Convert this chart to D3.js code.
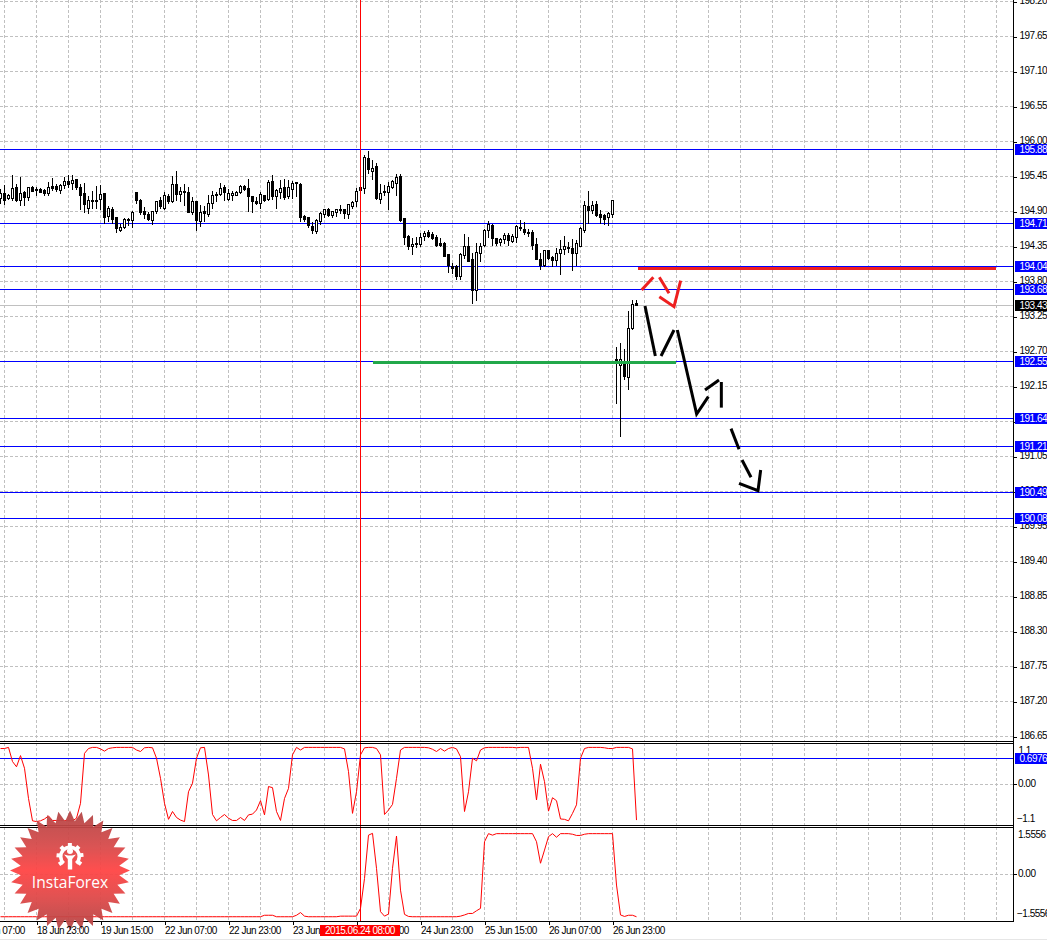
<!DOCTYPE html>
<html><head><meta charset="utf-8">
<script src="https://cdn.jsdelivr.net/npm/d3@7"></script>
<style>
html,body{margin:0;padding:0;background:#fff}
svg{display:block}
text{font-family:"Liberation Sans",sans-serif;font-size:10px;letter-spacing:-.5px;fill:#000}
</style></head><body><div id="chart"></div>
<script>
const opens=[195.10,195.19,195.11,195.10,195.28,195.07,195.20,195.12,195.28,195.24,
195.25,195.23,195.17,195.29,195.29,195.23,195.30,195.37,195.34,195.40,
195.28,195.19,194.95,195.08,195.08,195.08,195.18,194.81,194.93,194.80,
194.60,194.66,194.77,194.76,195.20,195.07,194.90,194.86,194.76,194.90,
195.07,194.95,195.14,195.07,195.32,195.17,195.21,195.20,194.88,195.05,
194.74,194.90,194.84,195.03,195.16,195.17,195.28,195.08,195.16,195.16,
195.20,195.29,195.26,195.14,195.06,195.03,195.15,195.09,195.37,195.14,
195.20,195.27,195.13,195.25,195.35,195.33,194.82,194.80,194.67,194.58,
194.74,194.85,194.93,194.84,194.88,194.93,194.93,194.85,194.98,195.05,
195.27,195.26,195.74,195.54,195.60,195.09,195.22,195.20,195.28,195.34,
195.45,194.79,194.51,194.35,194.40,194.38,194.50,194.57,194.54,194.49,
194.40,194.40,194.22,194.04,194.04,193.89,194.21,194.35,194.14,193.66,
194.24,194.36,194.60,194.68,194.47,194.41,194.46,194.53,194.42,194.49,
194.65,194.62,194.57,194.57,194.38,194.15,194.05,194.28,194.18,194.13,
194.24,194.30,194.34,194.32,194.24,194.36,194.60,194.98,194.92,195.01,
194.86,194.84,194.80,194.85,192.57,192.47,192.51,192.29,193.06,193.46];
const highs=[195.26,195.31,195.18,195.48,195.33,195.45,195.23,195.29,195.30,195.28,
195.27,195.25,195.36,195.42,195.33,195.33,195.45,195.47,195.48,195.41,
195.33,195.34,195.15,195.23,195.30,195.31,195.19,194.99,194.97,194.82,
194.71,194.80,194.80,194.91,195.21,195.09,194.97,194.89,194.91,195.07,
195.13,195.20,195.18,195.46,195.54,195.28,195.33,195.28,195.12,195.07,
195.00,194.98,195.16,195.23,195.20,195.35,195.31,195.26,195.23,195.23,
195.32,195.31,195.41,195.15,195.13,195.20,195.15,195.39,195.48,195.25,
195.40,195.41,195.39,195.38,195.36,195.35,194.84,194.81,194.74,194.79,
194.89,194.94,194.95,194.91,194.94,195.01,194.94,195.02,195.06,195.27,
195.31,195.78,195.85,195.71,195.67,195.33,195.31,195.36,195.40,195.49,
195.49,194.80,194.53,194.48,194.50,194.56,194.60,194.61,194.58,194.53,
194.48,194.42,194.22,194.09,194.06,194.25,194.54,194.50,194.24,194.41,
194.41,194.63,194.75,194.71,194.49,194.49,194.56,194.56,194.55,194.68,
194.77,194.73,194.62,194.61,194.48,194.24,194.28,194.28,194.20,194.32,
194.45,194.51,194.42,194.46,194.45,194.66,195.07,195.23,195.06,195.06,
194.93,194.86,194.89,195.08,192.77,192.84,192.74,193.34,193.51,193.51];
const lows=[195.02,195.00,195.08,195.07,195.05,194.99,194.99,195.07,195.20,195.15,
195.19,195.15,195.14,195.23,195.20,195.18,195.25,195.27,195.24,195.24,
194.92,194.88,194.86,194.94,194.94,194.92,194.71,194.74,194.71,194.56,
194.58,194.63,194.67,194.64,195.02,194.84,194.78,194.75,194.69,194.86,
194.94,194.92,195.02,195.04,195.07,195.05,194.98,194.87,194.84,194.60,
194.65,194.74,194.81,194.94,195.05,195.15,195.06,195.06,195.07,195.14,
195.18,195.23,194.89,194.88,195.00,194.94,195.05,195.07,195.08,194.94,
195.10,195.08,195.10,195.10,195.13,194.73,194.74,194.64,194.55,194.54,
194.68,194.80,194.81,194.80,194.81,194.86,194.79,194.78,194.94,194.97,
195.15,195.17,195.49,195.40,195.08,195.02,195.15,194.93,195.26,195.14,
194.74,194.37,194.29,194.22,194.32,194.35,194.43,194.48,194.45,194.35,
194.34,194.18,193.94,193.91,193.83,193.83,194.15,194.10,193.45,193.50,
194.10,194.35,194.48,194.36,194.36,194.36,194.39,194.36,194.40,194.40,
194.60,194.53,194.50,194.29,194.14,193.98,194.03,194.14,194.02,194.05,
193.90,194.22,194.24,193.97,194.04,194.35,194.56,194.71,194.86,194.82,
194.71,194.68,194.67,194.80,191.87,191.36,192.26,192.09,193.04,193.41];
const closes=[195.18,195.08,195.15,195.26,195.07,195.18,195.12,195.27,195.22,195.22,
195.20,195.18,195.27,195.26,195.25,195.31,195.37,195.33,195.39,195.27,
195.15,195.02,195.07,195.06,195.06,195.16,194.80,194.94,194.78,194.62,
194.65,194.78,194.75,194.89,195.07,194.88,194.85,194.78,194.90,195.06,
194.97,195.15,195.06,195.33,195.17,195.22,195.19,194.88,195.05,194.75,
194.88,194.87,195.02,195.15,195.17,195.26,195.20,195.18,195.19,195.20,
195.29,195.25,195.14,195.06,195.03,195.17,195.07,195.35,195.14,195.23,
195.26,195.12,195.27,195.34,195.33,194.81,194.78,194.67,194.60,194.76,
194.87,194.93,194.84,194.90,194.93,194.92,194.86,195.01,195.04,195.21,
195.22,195.75,195.56,195.58,195.10,195.19,195.20,195.29,195.37,195.43,
194.76,194.49,194.36,194.38,194.39,194.49,194.55,194.51,194.48,194.37,
194.37,194.19,194.04,194.01,193.88,194.23,194.35,194.11,193.66,194.26,
194.35,194.60,194.70,194.48,194.39,194.46,194.53,194.45,194.50,194.66,
194.63,194.58,194.56,194.36,194.15,194.06,194.28,194.15,194.14,194.24,
194.31,194.35,194.33,194.24,194.39,194.64,194.99,194.92,195.00,194.83,
194.81,194.78,194.87,195.07,192.55,192.57,192.30,193.06,193.44,193.43];
const oscA=[.96,.96,.99,.61,.47,.77,.43,-.38,-.98,-1.0,
-.98,-.93,-.85,-.97,-.97,-.97,-.97,-.98,-.98,-.91,
-.51,.83,.96,.99,.99,.95,.89,.96,.98,.99,
.99,.99,.99,.99,.92,.88,.98,.99,.98,.70,
.16,-.51,-.94,-.73,-.89,-.96,-1.0,-.20,.03,.70,
.98,.99,.25,-.81,-.98,-.89,-.81,-.91,-.97,-.97,
-.89,-.97,-.82,-.80,-.69,-.44,-.82,-.06,-.09,-.73,
-.97,-.38,-.11,.79,.99,.92,.99,.99,.99,.99,
.99,.99,.99,.99,.99,.99,.95,.34,-.78,-.20,
.79,.98,.99,.99,.96,.79,-.81,-.69,-.54,.16,
.92,.99,.99,.99,.99,.99,.99,.98,.94,.88,
.96,.89,.96,.99,.95,.74,-.73,-.20,.70,.63,
.92,.98,.99,.99,.99,.99,.99,.99,.99,.98,
.99,.99,.99,.43,-.42,.54,.07,-.72,-.36,-.44,
-.93,-.94,-.98,-.78,-.55,.70,.96,.99,.99,.99,
.99,.98,.96,.96,.99,.99,.99,.99,.95,-.96];
const oscB=[-1.42,-1.42,-1.42,-1.42,-1.42,-1.42,-1.42,-1.42,-1.42,-1.42,
-1.42,-1.42,-1.42,-1.42,-1.42,-1.42,-1.42,-1.42,-1.42,-1.42,
-1.42,-1.42,-1.42,-1.42,-1.42,-1.42,-1.42,-1.42,-1.42,-1.42,
-1.42,-1.42,-1.42,-1.42,-1.42,-1.42,-1.42,-1.42,-1.42,-1.42,
-1.42,-1.42,-1.42,-1.42,-1.42,-1.42,-1.42,-1.42,-1.42,-1.42,
-1.42,-1.42,-1.42,-1.42,-1.42,-1.42,-1.42,-1.42,-1.42,-1.42,
-1.42,-1.42,-1.42,-1.42,-1.42,-1.42,-1.37,-1.37,-1.37,-1.42,
-1.42,-1.42,-1.42,-1.42,-1.37,-1.28,-1.40,-1.42,-1.42,-1.42,
-1.42,-1.42,-1.42,-1.42,-1.42,-1.40,-1.40,-1.40,-1.40,-1.40,
-1.14,-.14,1.31,1.37,.20,-1.25,-1.40,-1.33,.20,1.28,
-.53,-1.34,-1.41,-1.42,-1.42,-1.42,-1.42,-1.42,-1.42,-1.42,
-1.42,-1.42,-1.42,-1.42,-1.42,-1.40,-1.36,-1.31,-1.31,-1.22,
-1.14,1.09,1.36,1.31,1.36,1.36,1.36,1.36,1.36,1.36,
1.36,1.36,1.36,1.36,1.09,.37,.81,1.26,1.36,1.24,
1.36,1.36,1.36,1.34,1.30,1.30,1.34,1.36,1.36,1.36,
1.36,1.36,1.36,1.36,-.36,-1.36,-1.41,-1.37,-1.37,-1.42];
const priceTicks=[198.20,197.65,197.10,196.55,196.00,195.45,194.90,194.35,193.80,193.25,192.70,192.15,191.60,191.05,190.50,189.95,189.40,188.85,188.30,187.75,187.20,186.65];
const levels=[195.88,194.71,194.04,193.68,192.55,191.64,191.21,190.49,190.08];
const currentPrice=193.43;
const timeBars=[-7,9,25,41,57,73,89,105,121,137,153];
const timeLabels=["18 Jun 07:00","18 Jun 23:00","19 Jun 15:00","22 Jun 07:00","22 Jun 23:00","23 Jun 15:00","24 Jun 07:00","24 Jun 23:00","25 Jun 15:00","26 Jun 07:00","26 Jun 23:00"];
const gridBars=[1,9,17,25,33,41,49,57,65,73,81,89,97,105,113,121,129,137,145,153,161,169,177,185,193,201,209,217,225,233,241,249];
const cursorBar=90, cursorLabel="2015.06.24 08:00";
const oscALevel=0.6976;
const oscATicks=[1.1,0,-1.1], oscBTicks=[1.5556,0,-1.5556];
const redBar=[[159.4,194.01],[248.9,194.01]];
const greenBar=[[93.1,192.53],[168.9,192.53]];
const redStrokes=[[[160.29,193.667],[163.21,193.866]],[[164.71,193.866],[167.13,193.614]],[[164.71,193.562],[168.38,193.405],[170.04,193.813]]];
const blackStrokes=[[[161.13,193.415],[163.71,192.629]],[[165.13,192.629],[168.38,193.038]],[[169.21,193.038],[174.04,191.718],[176.96,191.990]],[[176.13,192.095],[179.63,192.252]],[[180.21,192.221],[180.21,191.818]],[[182.63,191.488],[184.63,191.163]],[[185.38,190.995],[187.63,190.723]],[[184.63,190.629],[189.38,190.513],[190.04,190.838]]];

const W=1064,H=940,AX=1013.5,VW=1047;
const x=d3.scaleLinear().domain([0,252]).range([0.5,1008.5]);
const y=d3.scaleLinear().domain([198.2,186.65]).range([1.5,736.5]);
const yA=d3.scaleLinear().domain([1.1,-1.1]).range([743.3,825.3]);
const yB=d3.scaleLinear().domain([1.5556,-1.5556]).range([827.8,920.8]);
const snap=v=>Math.floor(v)+.5;

const svg=d3.select("#chart").append("svg").attr("width",W).attr("height",H);
const defs=svg.append("defs");
defs.append("clipPath").attr("id","view").append("rect").attr("width",VW).attr("height",939);
defs.append("clipPath").attr("id","plot").append("rect").attr("width",AX).attr("height",741);
defs.append("clipPath").attr("id","pA").append("rect").attr("y",743).attr("width",AX).attr("height",82);
defs.append("clipPath").attr("id","pB").append("rect").attr("y",827).attr("width",AX).attr("height",94);
const g=svg.append("g").attr("clip-path","url(#view)");

// grid
const grid=g.append("g").attr("stroke","#c0c0c0").attr("stroke-dasharray","3,2").attr("shape-rendering","crispEdges");
[[0,741],[743,825],[827,921]].forEach(([a,b])=>{
  grid.selectAll(null).data(gridBars).join("line").attr("x1",d=>x(d)).attr("x2",d=>x(d)).attr("y1",a).attr("y2",b);
});
grid.selectAll(null).data(priceTicks).join("line").attr("x1",0).attr("x2",AX).attr("y1",d=>snap(y(d))).attr("y2",d=>snap(y(d)));
grid.append("line").attr("x1",0).attr("x2",AX).attr("y1",snap(yA(0))).attr("y2",snap(yA(0)));
grid.append("line").attr("x1",0).attr("x2",AX).attr("y1",snap(yB(0))).attr("y2",snap(yB(0)));

// level lines
const main=g.append("g").attr("clip-path","url(#plot)");
main.append("line").attr("x1",0).attr("x2",AX).attr("y1",snap(y(currentPrice))).attr("y2",snap(y(currentPrice))).attr("stroke","#c0c0c0").attr("shape-rendering","crispEdges");
main.selectAll(".lvl").data(levels).join("line").attr("class","lvl").attr("x1",0).attr("x2",AX)
  .attr("y1",d=>snap(y(d))).attr("y2",d=>snap(y(d))).attr("stroke","#0000ff").attr("shape-rendering","crispEdges");

// candles
const idx=d3.range(opens.length);
const cg=main.append("g").attr("shape-rendering","crispEdges");
cg.selectAll(".w").data(idx).join("line").attr("class","w").attr("x1",x).attr("x2",x)
  .attr("y1",k=>Math.round(y(highs[k]))).attr("y2",k=>Math.round(y(lows[k]))).attr("stroke","#000");
cg.selectAll(".b").data(idx).join("rect").attr("class","b")
  .attr("x",k=>x(k)-1).attr("width",2)
  .attr("y",k=>snap(y(Math.max(opens[k],closes[k]))))
  .attr("height",k=>Math.max(1,Math.round(Math.abs(y(opens[k])-y(closes[k])))))
  .attr("fill",k=>closes[k]>=opens[k]?"#fff":"#000").attr("stroke","#000");

// drawn annotations
const seg=d3.line().x(d=>x(d[0])).y(d=>y(d[1]));
main.append("path").attr("d",seg(redBar)).attr("stroke","#ee2020").attr("stroke-width",3).attr("fill","none").attr("shape-rendering","crispEdges");
main.append("path").attr("d",seg(greenBar)).attr("stroke","#22a84a").attr("stroke-width",3).attr("fill","none").attr("shape-rendering","crispEdges");
main.selectAll(".rs").data(redStrokes).join("path").attr("class","rs").attr("d",seg).attr("stroke","#ee2020").attr("stroke-width",3).attr("fill","none");
main.selectAll(".bs").data(blackStrokes).join("path").attr("class","bs").attr("d",seg).attr("stroke","#000").attr("stroke-width",3).attr("fill","none");

// indicators
g.append("line").attr("x1",0).attr("x2",AX).attr("y1",snap(yA(oscALevel))).attr("y2",snap(yA(oscALevel))).attr("stroke","#0000ff").attr("shape-rendering","crispEdges");
g.append("path").attr("clip-path","url(#pA)").attr("d",d3.line().x((d,i)=>x(i)).y(d=>yA(d))(oscA)).attr("fill","none").attr("stroke","#ff0000");
g.append("path").attr("clip-path","url(#pB)").attr("d",d3.line().x((d,i)=>x(i)).y(d=>yB(d))(oscB)).attr("fill","none").attr("stroke","#ff0000");

// cursor
g.append("line").attr("x1",x(cursorBar)).attr("x2",x(cursorBar)).attr("y1",0).attr("y2",921).attr("stroke","#ff0000").attr("shape-rendering","crispEdges");

// frames
const frame=g.append("g").attr("stroke","#000").attr("shape-rendering","crispEdges");
[741,743,825,827,921].forEach(v=>frame.append("line").attr("x1",0).attr("x2",AX).attr("y1",v+.5).attr("y2",v+.5));

// logo
const logo=g.append("g").attr("transform","translate(70,870.5)").attr("opacity",.94);
const grad=defs.append("linearGradient").attr("id","lg").attr("x1",0).attr("x2",0).attr("y1",0).attr("y2",1);
[[0,"#b24646"],[.3,"#d84a4a"],[.5,"#ff4444"],[.72,"#e04848"],[1,"#b24646"]].forEach(([o,c])=>grad.append("stop").attr("offset",o).attr("stop-color",c));
const star=d3.range(64).map(i=>[i*Math.PI/32,i%2?49.5:60]);
logo.append("path").attr("d",d3.lineRadial().curve(d3.curveLinearClosed)(star)).attr("fill","url(#lg)");
const icon=logo.append("g").attr("transform","translate(0,-14)").attr("fill","#fff");
icon.append("path").attr("d",d3.arc()({innerRadius:7.5,outerRadius:11,startAngle:-2.4,endAngle:2.4}));
d3.range(-2.2,2.3,0.73).forEach(a=>icon.append("rect").attr("x",-2).attr("y",-13.5).attr("width",4).attr("height",4).attr("transform",`rotate(${a*180/Math.PI})`));
icon.append("circle").attr("cx",0).attr("cy",-5.5).attr("r",3);
icon.append("path").attr("d","M-6,-2 L-2,-1 L2,-1 L6,-2 L2.2,2.5 L2.2,13 L-2.2,13 L-2.2,2.5 Z");
logo.append("text").attr("x",0).attr("y",17.5).attr("text-anchor","middle")
  .style("font-family","'Open Sans',sans-serif").style("font-size","15.6px").style("letter-spacing","0").style("fill","#fff").text("InstaForex");

// axes
const axisStyle=a=>{a.select(".domain").remove();a.selectAll("line").attr("stroke","#000").attr("shape-rendering","crispEdges");};
g.append("line").attr("x1",AX).attr("x2",AX).attr("y1",0).attr("y2",922).attr("stroke","#000").attr("shape-rendering","crispEdges");
const ax=g.append("g").attr("transform",`translate(${AX},0)`)
  .call(d3.axisRight(y).tickValues(priceTicks).tickSize(3).tickPadding(3).tickFormat(d3.format(".2f")));
axisStyle(ax);
ax.selectAll("text").attr("dy","0.2em");
const bx=g.append("g").attr("transform","translate(0,921.5)")
  .call(d3.axisBottom(x).tickValues(timeBars).tickSize(3).tickPadding(2).tickFormat(d=>timeLabels[timeBars.indexOf(d)]));
axisStyle(bx);
bx.selectAll("text").attr("text-anchor","start").attr("dy","0.75em");

const axA=g.append("g").attr("transform",`translate(${AX},0)`)
  .call(d3.axisRight(yA).tickValues(oscATicks).tickSize(3).tickPadding(1).tickFormat(d=>d===0?"0.00":d3.format(".1f")(d)));
axisStyle(axA);
axA.selectAll(".tick").each(function(d){const t=d3.select(this);
  t.select("text").attr("x",d<0?3.5:d>0?5:4.5).attr("dy",d>0?"1.05em":d<0?"-0.42em":"0.2em");
  if(d!==0)t.select("line").remove();});
const axB=g.append("g").attr("transform",`translate(${AX},0)`)
  .call(d3.axisRight(yB).tickValues(oscBTicks).tickSize(3).tickPadding(1).tickFormat(d=>d===0?"0.00":d3.format(".4f")(d)));
axisStyle(axB);
axB.selectAll(".tick").each(function(d){const t=d3.select(this);
  t.select("text").attr("x",d<0?3.5:4.5).attr("dy",d>0?"1.0em":d<0?"-0.42em":"0.17em");
  if(d!==0)t.select("line").remove();});

// value tags
const tag=(val,scale,txt,bg)=>{
  const c=snap(scale(val));
  g.append("rect").attr("x",1015).attr("y",c-5.5).attr("width",33).attr("height",11).attr("fill",bg);
  g.append("text").attr("x",1019.5).attr("y",c+3.5).style("fill","#fff").text(txt);
};
levels.forEach(v=>tag(v,y,v.toFixed(2),"#0000ff"));
tag(currentPrice,y,currentPrice.toFixed(2),"#000");
tag(oscALevel,yA,oscALevel.toFixed(4),"#0000ff");

// cursor time tag
g.append("rect").attr("x",320).attr("y",925).attr("width",80).attr("height",11).attr("fill","#ff0000");
g.append("text").attr("x",360).attr("y",934).attr("text-anchor","middle").style("fill","#fff").text(cursorLabel);

svg.append("line").attr("x1",0).attr("x2",VW).attr("y1",939.5).attr("y2",939.5).attr("stroke","#e6e6e6");
</script></body></html>
